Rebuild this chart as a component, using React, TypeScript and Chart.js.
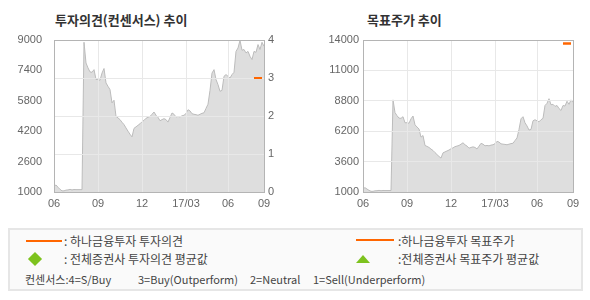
import React, { useEffect, useRef } from 'react';
import { Chart, registerables } from 'chart.js';

Chart.register(...registerables);

// ---------- data ----------
const xTickLabels = ['06', '09', '12', '17/03', '06', '09'];
const xTickIndex = [0, 22, 44, 66, 87, 105];

const stockPrice = [
  1300, 1370, 1250, 1140, 1060, 1060, 1100, 1110, 1140, 1110,
  1130, 1125, 1125, 1125, 1125, 8880, 7790, 7530, 7320, 7300,
  7440, 6920, 6930, 6880, 7260, 7500, 6740, 6560, 6390, 5690,
  5830, 4980, 4900, 4810, 4670, 4550, 4370, 4200, 4040, 3900,
  4350, 4430, 4510, 4590, 4700, 4770, 4880, 4930, 4980, 5090,
  5210, 5040, 4930, 4750, 4810, 4860, 4810, 4680, 4920, 5160,
  5090, 4950, 4980, 4950, 5010, 5040, 5130, 5330, 5270, 5120,
  5090, 5070, 5040, 5090, 5140, 5170, 5400, 5620, 6350, 7260,
  7440, 6920, 6650, 6300, 6350, 7090, 7180, 7090, 7000, 7180,
  7300, 8400, 8580, 8980, 8460, 8500, 8320, 8400, 8140, 7970,
  8400, 8350, 8760, 8500, 8880, 8670,
];

const houseOpinion = { from: 100, to: 104, value: 3 };
const houseTarget = { from: 100, to: 104, value: 13700 };

const priceTickLabels = ['1000', '2600', '4200', '5800', '7400', '9000'];
const opinionTickLabels = ['0', '1', '2', '3', '4'];
const targetTickLabels = ['1000', '3600', '6200', '8800', '11000', '14000'];

const categories = stockPrice.map((_, i) => String(i));

// ---------- styles ----------
const ORANGE = '#ff6600';
const GREEN = '#7dc21e';
const GRID = '#e8e8e8';
const FRAME = '#b4b4b4';
const AREA = '#dedede';
const AREA_LINE = '#bcbcbc';
const TICK_COLOR = '#666666';
const TICK_FONT = { family: '"Liberation Sans", Arial, sans-serif', size: 11 };

const spanSeries = (s: { from: number; to: number; value: number }) =>
  categories.map((_, i) => (i >= s.from && i <= s.to ? s.value : null));

const overlayPlugin = {
  id: 'overlay',
  afterDraw(chart: any) {
    const { ctx, chartArea: a } = chart;
    // redraw the house line on top of the grid
    const meta = chart.getDatasetMeta(1);
    if (meta && meta.controller) {
      ctx.save();
      meta.controller.draw();
      ctx.restore();
    }
    ctx.save();
    ctx.strokeStyle = FRAME;
    ctx.lineWidth = 1;
    ctx.strokeRect(
      Math.round(a.left) + 0.5,
      Math.round(a.top) + 0.5,
      Math.round(a.right - a.left),
      Math.round(a.bottom - a.top)
    );
    ctx.restore();
  },
};

function xScale() {
  return {
    type: 'category',
    offset: false,
    grid: { z: 1, color: GRID, drawTicks: false },
    border: { display: false },
    afterBuildTicks: (scale: any) => {
      scale.ticks = xTickIndex.map((v) => ({ value: v }));
    },
    ticks: {
      autoSkip: false,
      maxRotation: 0,
      padding: 5,
      color: TICK_COLOR,
      font: TICK_FONT,
      callback: (value: number) => {
        const k = xTickIndex.indexOf(value);
        return k >= 0 ? xTickLabels[k] : null;
      },
    },
    afterFit: (s: any) => {
      s.height = 20;
    },
  };
}

function OpinionChart() {
  const ref = useRef<HTMLCanvasElement>(null);
  useEffect(() => {
    const chart = new Chart(ref.current as HTMLCanvasElement, {
      type: 'line',
      data: {
        labels: categories,
        datasets: [
          {
            data: stockPrice,
            yAxisID: 'y',
            borderColor: AREA_LINE,
            borderWidth: 1,
            backgroundColor: AREA,
            fill: 'start',
            pointRadius: 0,
            tension: 0,
          },
          {
            data: spanSeries(houseOpinion),
            yAxisID: 'y1',
            borderColor: ORANGE,
            borderWidth: 2,
            pointRadius: 0,
            fill: false,
          },
        ],
      },
      options: {
        responsive: false,
        animation: false,
        devicePixelRatio: 1,
        layout: { padding: { top: 40, left: 0, right: 0, bottom: 8 } },
        plugins: { legend: { display: false }, tooltip: { enabled: false } },
        scales: {
          x: xScale() as any,
          y: {
            position: 'left',
            min: 1000,
            max: 9000,
            grid: { display: false },
            border: { display: false },
            ticks: {
              stepSize: 1600,
              padding: 4,
              color: TICK_COLOR,
              font: TICK_FONT,
              callback: (_v: any, i: number) => priceTickLabels[i],
            },
            afterFit: (s: any) => {
              s.width = 54;
            },
          },
          y1: {
            position: 'right',
            min: 0,
            max: 4,
            grid: { z: 1, color: GRID, drawTicks: false },
            border: { display: false },
            ticks: {
              stepSize: 1,
              padding: 4,
              color: TICK_COLOR,
              font: TICK_FONT,
              callback: (_v: any, i: number) => opinionTickLabels[i],
            },
            afterFit: (s: any) => {
              s.width = 31;
            },
          },
        },
      },
      plugins: [overlayPlugin],
    } as any);
    return () => chart.destroy();
  }, []);
  return <canvas ref={ref} width={295} height={220} style={{ position: 'absolute', left: 0, top: 0 }} />;
}

function TargetChart() {
  const ref = useRef<HTMLCanvasElement>(null);
  useEffect(() => {
    const chart = new Chart(ref.current as HTMLCanvasElement, {
      type: 'line',
      data: {
        labels: categories,
        datasets: [
          {
            data: stockPrice,
            yAxisID: 'y',
            borderColor: AREA_LINE,
            borderWidth: 1,
            backgroundColor: AREA,
            fill: 'start',
            pointRadius: 0,
            tension: 0,
          },
          {
            data: spanSeries(houseTarget),
            yAxisID: 'y',
            borderColor: ORANGE,
            borderWidth: 2,
            pointRadius: 0,
            fill: false,
          },
        ],
      },
      options: {
        responsive: false,
        animation: false,
        devicePixelRatio: 1,
        layout: { padding: { top: 40, left: 0, right: 17, bottom: 8 } },
        plugins: { legend: { display: false }, tooltip: { enabled: false } },
        scales: {
          x: xScale() as any,
          y: {
            position: 'left',
            min: 1000,
            max: 14000,
            grid: { z: 1, color: GRID, drawTicks: false },
            border: { display: false },
            ticks: {
              stepSize: 2600,
              padding: 4,
              color: TICK_COLOR,
              font: TICK_FONT,
              callback: (_v: any, i: number) => targetTickLabels[i],
            },
            afterFit: (s: any) => {
              s.width = 68;
            },
          },
        },
      },
      plugins: [overlayPlugin],
    } as any);
    return () => chart.destroy();
  }, []);
  return <canvas ref={ref} width={295} height={220} style={{ position: 'absolute', left: 295, top: 0 }} />;
}

const KFONT = '"Noto Sans CJK KR", "Noto Sans", sans-serif';

function Text(props: { x: number; y: number; children: React.ReactNode; size?: number; bold?: boolean; color?: string }) {
  return (
    <div
      style={{
        position: 'absolute',
        left: props.x,
        top: props.y - 8,
        height: 16,
        lineHeight: '16px',
        fontSize: props.size || 12,
        fontWeight: props.bold ? 700 : 400,
        color: props.color || '#444',
        fontFamily: KFONT,
        whiteSpace: 'pre',
      }}
    >
      {props.children}
    </div>
  );
}

export default function App() {
  return (
    <div style={{ position: 'fixed', left: 0, top: 0, width: 590, height: 300, background: '#fff', overflow: 'hidden' }}>
      <Text x={55} y={20} size={13} bold color="#333">투자의견(컨센서스) 추이</Text>
      <Text x={367} y={20} size={13} bold color="#333">목표주가 추이</Text>
      <OpinionChart />
      <TargetChart />
      <div
        style={{
          position: 'absolute',
          left: 8,
          top: 228,
          width: 575,
          height: 63,
          boxSizing: 'border-box',
          border: '2px solid #e6e6e6',
          background: '#fafafa',
        }}
      />
      <div style={{ position: 'absolute', left: 26, top: 240, width: 36, height: 2, background: ORANGE }} />
      <Text x={64} y={241}>: 하나금융투자 투자의견</Text>
      <div style={{ position: 'absolute', left: 30, top: 254, width: 10, height: 10, background: GREEN, transform: 'rotate(45deg)' }} />
      <Text x={64} y={259}>: 전체증권사 투자의견 평균값</Text>
      <div style={{ position: 'absolute', left: 356, top: 239, width: 38, height: 2, background: ORANGE }} />
      <Text x={398} y={241}>:하나금융투자 목표주가</Text>
      <div
        style={{
          position: 'absolute',
          left: 356,
          top: 255,
          width: 0,
          height: 0,
          borderLeft: '7px solid transparent',
          borderRight: '7px solid transparent',
          borderBottom: `8px solid ${GREEN}`,
        }}
      />
      <Text x={398} y={259}>:전체증권사 목표주가 평균값</Text>
      <Text x={25} y={279} size={11}>컨센서스:4=S/Buy</Text>
      <Text x={138} y={279} size={11}>3=Buy(Outperform)</Text>
      <Text x={250} y={279} size={11}>2=Neutral</Text>
      <Text x={313} y={279} size={11}>1=Sell(Underperform)</Text>
    </div>
  );
}
